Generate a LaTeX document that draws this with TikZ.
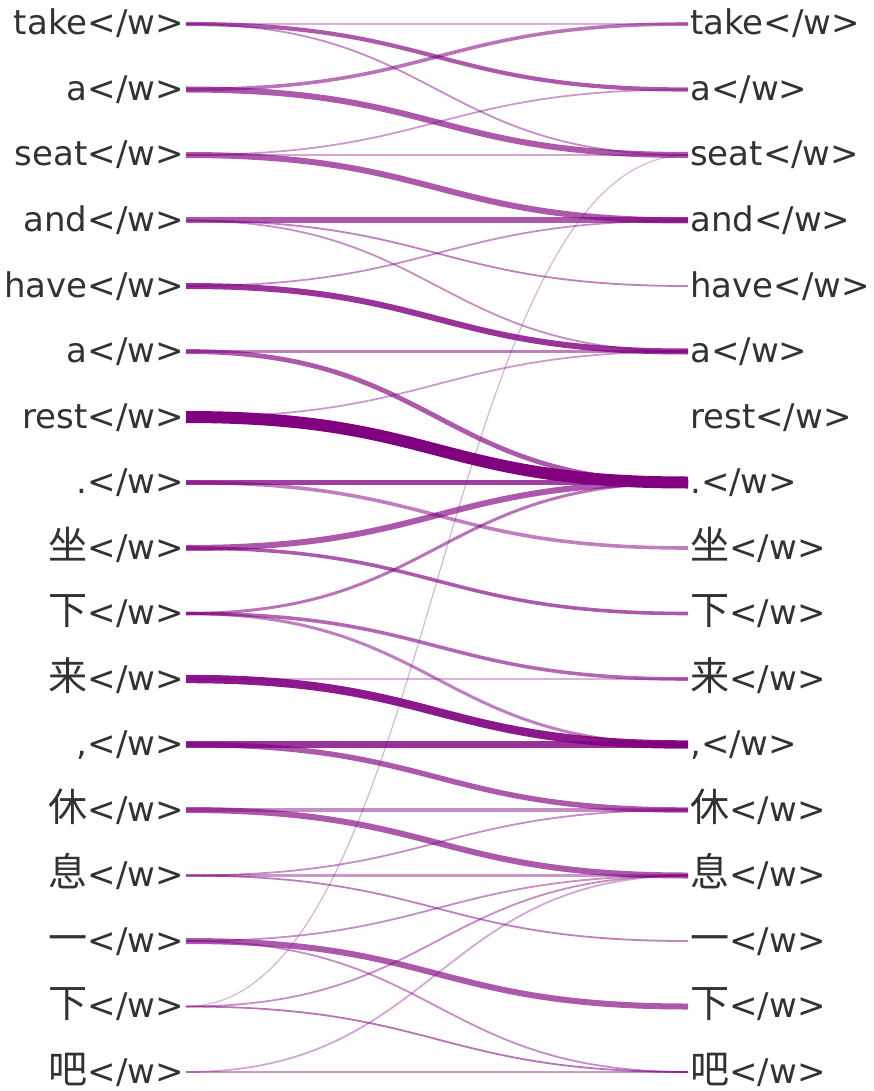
\documentclass[tikz,border=0pt]{standalone}
\usepackage{fontspec}
\setmainfont{DejaVu Sans}
\newfontfamily\cjk[Scale=1.15]{Noto Sans CJK SC}
\definecolor{lk}{RGB}{128,0,128}
\definecolor{txt}{RGB}{50,50,50}
\tikzset{
  lab/.style={inner sep=0pt, text=txt, font=\fontsize{34}{34}\selectfont},
  llab/.style={lab, anchor=base east},
  rlab/.style={lab, anchor=base west},
  lnk/.style 2 args={draw=lk, line width=1.2*#1pt, draw opacity=#2},
}
\begin{document}
\begin{tikzpicture}[x=1pt,y=-1pt]
\useasboundingbox (0,0) rectangle (873,1091);
\foreach \i/\t in {0/take,1/a,2/seat,3/and,4/have,5/a,6/rest,7/.,8/{{\cjk 坐}},9/{{\cjk 下}},10/{{\cjk 来}},11/{,},12/{{\cjk 休}},13/{{\cjk 息}},14/{{\cjk 一}},15/{{\cjk 下}},16/{{\cjk 吧}}}{
  \pgfmathsetmacro{\yy}{24+65.5*\i}
  \coordinate (p\i) at (186,\yy);
  \coordinate (q\i) at (688,\yy);
  \node[llab] (L\i) at (184,\yy+11) {\t</w>};
  \node[rlab] (R\i) at (690,\yy+11) {\t</w>};
}
\foreach \a/\b/\w/\o in {
  0/0/1.5/0.3, 0/1/3.5/0.65, 0/2/1.5/0.45,
  1/0/3/0.55, 1/2/5/0.65,
  2/1/1.5/0.4, 2/2/1.5/0.35, 2/3/5/0.65,
  3/3/5/0.65, 3/4/1.5/0.5, 3/5/1.5/0.45,
  4/3/1.5/0.45, 4/5/5/0.8,
  5/5/2.5/0.5, 5/7/4/0.65,
  6/5/1.5/0.4,
  7/7/4.5/0.75, 7/8/3/0.5,
  8/7/5/0.65, 8/9/3/0.65,
  9/7/2.5/0.55, 9/10/3/0.6, 9/11/2.5/0.5,
  10/10/1.5/0.3,
  11/11/6/0.8, 11/12/4.5/0.65,
  12/12/3/0.45, 12/13/5/0.65,
  13/13/3/0.4, 13/12/1.5/0.45, 13/14/1.5/0.5,
  14/15/5/0.65, 14/13/1.5/0.45, 14/16/1.5/0.45,
  15/13/1.5/0.45, 15/16/1.5/0.55, 15/2/1/0.3,
  16/16/1.5/0.4, 16/13/1.5/0.35,
  10/11/7/0.9, 6/7/10/1}{
  \draw[lnk={\w}{\o}] (p\a) .. controls +(251,0) and +(-251,0) .. (q\b);
}
\end{tikzpicture}
\end{document}
